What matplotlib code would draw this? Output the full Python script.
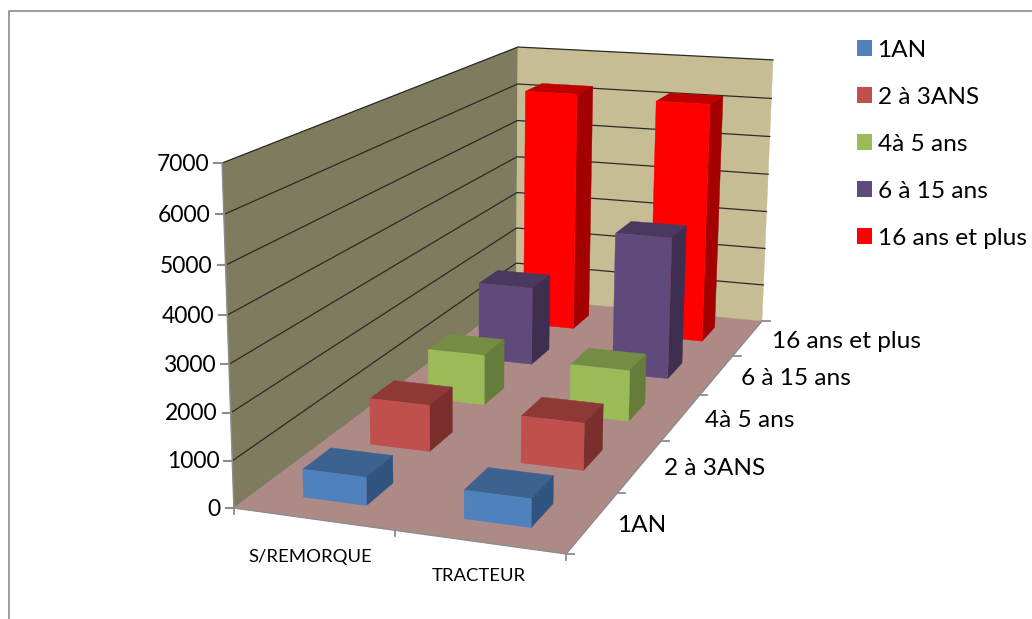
import numpy as np
import matplotlib
matplotlib.use("Agg")
import matplotlib.pyplot as plt
from matplotlib.patches import Polygon, Patch

plt.rcParams['font.family'] = ['Lato', 'DejaVu Sans']

categories = ['S/REMORQUE', 'TRACTEUR']
series_names = ['1AN', '2 à 3ANS', '4à 5 ans', '6 à 15 ans', '16 ans et plus']
remorque = [600, 1050, 1200, 1950, 6220]
tracteur = [600, 1050, 1200, 3500, 6160]
z_ticks = [0, 1000, 2000, 3000, 4000, 5000, 6000, 7000]

front_colors = ['#4f81bd', '#c0504d', '#9bbb59', '#604a7b', '#ff0000']
top_colors = ['#3c6390', '#8f3937', '#748c43', '#4a385f', '#bf0000']
side_colors = ['#31547f', '#7a2f2d', '#667c3b', '#3e2f50', '#a50000']

ZMAX = 7000.0
NCAT = len(categories)
NSER = len(series_names)

# where the corners of the chart box land on the picture, used to fit the camera
box_world = [(0, 0, 0), (2, 0, 0), (2, 5, 0), (0, 5, 0), (0, 0, 7000), (0, 5, 7000), (2, 5, 7000)]
box_pixels = [(234, 508), (566, 554), (762, 321), (516, 298), (222, 163), (518, 47), (773, 60)]


def fit_camera():
    rows = []
    rhs = []
    for (x, y, z), (u, v) in zip(box_world, box_pixels):
        z = z / ZMAX
        rows.append([x, y, z, 1, 0, 0, 0, 0, -u * x, -u * y, -u * z])
        rhs.append(u)
        rows.append([0, 0, 0, 0, x, y, z, 1, -v * x, -v * y, -v * z])
        rhs.append(v)
    p = np.linalg.lstsq(np.array(rows, float), np.array(rhs, float), rcond=None)[0]
    return np.append(p, 1.0).reshape(3, 4)


CAM = fit_camera()


def proj(x, y, z):
    q = CAM @ np.array([x, y, z / ZMAX, 1.0])
    return q[0] / q[2], q[1] / q[2]


def face(ax, pts, color, zorder):
    ax.add_patch(Polygon([proj(*p) for p in pts], closed=True, facecolor=color,
                         edgecolor=color, linewidth=0.3, zorder=zorder))


def bar(ax, cat, ser, value, idx, zorder):
    x0, x1 = cat + 0.3, cat + 0.7
    y0, y1 = ser + 0.3, ser + 0.7
    face(ax, [(x0, y0, value), (x1, y0, value), (x1, y1, value), (x0, y1, value)], top_colors[idx], zorder)
    face(ax, [(x1, y0, 0), (x1, y1, 0), (x1, y1, value), (x1, y0, value)], side_colors[idx], zorder)
    face(ax, [(x0, y0, 0), (x1, y0, 0), (x1, y0, value), (x0, y0, value)], front_colors[idx], zorder)


def main():
    fig = plt.figure(figsize=(10.32, 6.19), dpi=100)
    ax = fig.add_axes([0, 0, 1, 1])
    ax.set_xlim(0, 1032)
    ax.set_ylim(619, 0)
    ax.axis('off')

    # outer chart border
    ax.plot([9, 9, 1032], [619, 10.5, 10.5], color='#8c8c8c', lw=1.2)

    # walls and floor
    face(ax, [(0, 0, 0), (0, 5, 0), (0, 5, ZMAX), (0, 0, ZMAX)], '#7e7b5f', 1)
    face(ax, [(0, 5, 0), (2, 5, 0), (2, 5, ZMAX), (0, 5, ZMAX)], '#c6bd95', 1)
    face(ax, [(0, 0, 0), (2, 0, 0), (2, 5, 0), (0, 5, 0)], '#ae8a87', 1)

    for z in z_ticks[1:]:
        pts = [proj(0, 0, z), proj(0, 5, z), proj(2, 5, z)]
        ax.plot([p[0] for p in pts], [p[1] for p in pts], color='#2a2a22', lw=0.9, zorder=2)

    # axes lines and ticks
    tick_col = '#8c8c8c'
    for pts in ([(0, 0, 0), (0, 0, ZMAX)], [(0, 0, 0), (2, 0, 0)], [(2, 0, 0), (2, 5, 0)]):
        a, b = proj(*pts[0]), proj(*pts[1])
        ax.plot([a[0], b[0]], [a[1], b[1]], color=tick_col, lw=1.0, zorder=3)
    for z in z_ticks:
        u, v = proj(0, 0, z)
        ax.plot([u - 8, u], [v, v], color=tick_col, lw=1.5, zorder=3)
        ax.text(u - 13, v + 1, str(z), ha='right', va='center', fontsize=16.5, color='black')
    for c in range(NCAT + 1):
        u, v = proj(c, 0, 0)
        ax.plot([u, u], [v, v + 6], color=tick_col, lw=1.3, zorder=3)
    for s in range(NSER + 1):
        u, v = proj(2, s, 0)
        ax.plot([u, u + 8], [v, v], color=tick_col, lw=1.3, zorder=3)

    # bars, back row first so nearer ones paint over
    zo = 4
    for s in range(NSER - 1, -1, -1):
        for c, vals in enumerate([remorque, tracteur]):
            bar(ax, c, s, vals[s], s, zo)
            zo += 1

    # category labels
    for c, name in enumerate(categories):
        u, v = proj(c + 0.5, 0, 0)
        ax.text(u - 3 + 3 * c, v + 38 - 4 * c, name, ha='center', va='center', fontsize=13.3, color='black')
    for s, name in enumerate(series_names):
        u, v = proj(2, s + 0.5, 0)
        ax.text(u + 24, v + 3, name, ha='left', va='center', fontsize=17.6, color='black')

    handles = [Patch(facecolor=col, edgecolor='none', label=name) for col, name in zip(front_colors, series_names)]
    ax.legend(handles=handles, loc='upper left', bbox_to_anchor=(857 / 1032, 1 - 40 / 619), frameon=False,
              fontsize=17.6, handlelength=0.62, handleheight=0.62, handletextpad=0.22, labelspacing=1.06,
              borderpad=0, borderaxespad=0)

    fig.savefig('out.png', dpi=100)


if __name__ == "__main__":
    main()
